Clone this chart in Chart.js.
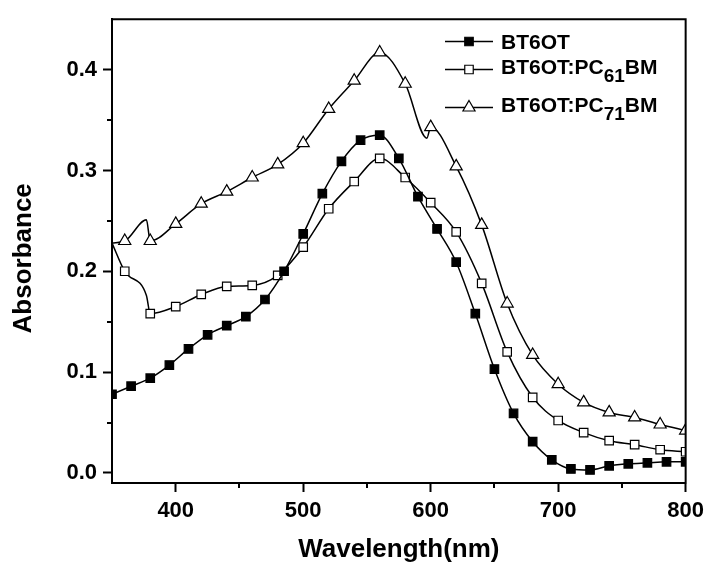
<!DOCTYPE html>
<html>
<head>
<meta charset="utf-8">
<script src="https://cdn.jsdelivr.net/npm/chart.js@4/dist/chart.umd.min.js"></script>
<style>
  body { margin: 0; background: #fff; }
  #uv { display: block; }
</style>
</head>
<body>
<canvas id="uv" width="710" height="567"></canvas>
<script>
// wavelength (nm) / absorbance
const bt6otWl = [350, 365, 380, 395, 410, 425, 440, 455, 470, 485, 500, 515, 530, 545, 560, 575,
  590, 605, 620, 635, 650, 665, 680, 695, 710, 725, 740, 755, 770, 785, 800];
const bt6otAbs = [0.078, 0.086, 0.094, 0.107, 0.123, 0.137, 0.146, 0.155, 0.172, 0.200, 0.237,
  0.277, 0.309, 0.330, 0.335, 0.312, 0.274, 0.242, 0.209, 0.158, 0.103, 0.059, 0.031, 0.013,
  0.004, 0.003, 0.007, 0.009, 0.010, 0.011, 0.011];

const pc61Wl = [350, 360, 377, 380, 400, 420, 440, 460, 480, 500, 520, 540, 560, 580, 600, 620,
  640, 660, 680, 700, 720, 740, 760, 780, 800];
const pc61Abs = [0.228, 0.200, 0.176, 0.158, 0.165, 0.177, 0.185, 0.186, 0.196, 0.224, 0.262,
  0.289, 0.312, 0.293, 0.268, 0.239, 0.188, 0.120, 0.075, 0.052, 0.040, 0.032, 0.028, 0.023, 0.021];
const pc61Bare = [350, 377];  // line points without a marker

const pc71Wl = [350, 360, 377, 380, 400, 420, 440, 460, 480, 500, 520, 540, 560, 580, 597, 600,
  620, 640, 660, 680, 700, 720, 740, 760, 780, 800];
const pc71Abs = [0.228, 0.230, 0.251, 0.230, 0.247, 0.267, 0.279, 0.293, 0.306, 0.327, 0.361,
  0.389, 0.417, 0.386, 0.332, 0.343, 0.304, 0.246, 0.168, 0.117, 0.088, 0.070, 0.060, 0.055,
  0.048, 0.042];
const pc71Bare = [350, 377, 597];

const xTicks = [400, 500, 600, 700, 800];
const xMinor = [450, 550, 650, 750];
const yTicks = [0, 0.1, 0.2, 0.3, 0.4];
const yMinor = [0.05, 0.15, 0.25, 0.35];

const legendNames = ['BT6OT', 'BT6OT:PC61BM', 'BT6OT:PC71BM'];

const FONT = "'Liberation Sans', Arial, sans-serif";

const toPoints = (wl, abs) => wl.map((x, i) => ({ x: x, y: abs[i] }));

function makeSet(label, wl, abs, bare, style, fill, r) {
  return {
    label: label,
    data: toPoints(wl, abs),
    borderColor: '#000',
    borderWidth: 1.5,
    cubicInterpolationMode: 'monotone',
    pointStyle: style,
    pointRadius: ctx => bare.includes(ctx.raw && ctx.raw.x) ? 0 : r,
    pointHoverRadius: ctx => bare.includes(ctx.raw && ctx.raw.x) ? 0 : r,
    pointBackgroundColor: fill,
    pointBorderColor: '#000',
    pointBorderWidth: 1.2,
    clip: 0
  };
}

const sets = [
  makeSet(legendNames[0], bt6otWl, bt6otAbs, [], 'rect', '#000', 6),
  makeSet(legendNames[1], pc61Wl, pc61Abs, pc61Bare, 'rect', '#fff', 6),
  makeSet(legendNames[2], pc71Wl, pc71Abs, pc71Bare, 'triangle', '#fff', 7)
];

// top/right frame plus the short minor ticks
const frame = {
  id: 'frame',
  afterDraw(chart) {
    const { ctx, chartArea: a, scales: { x, y } } = chart;
    ctx.save();
    ctx.strokeStyle = '#000';
    ctx.lineWidth = 2;
    ctx.beginPath();
    ctx.moveTo(a.left - 1, a.top);
    ctx.lineTo(a.right, a.top);
    ctx.lineTo(a.right, a.bottom + 1);
    ctx.stroke();
    ctx.beginPath();
    xMinor.forEach(v => {
      const px = Math.round(x.getPixelForValue(v));
      ctx.moveTo(px, a.bottom);
      ctx.lineTo(px, a.bottom + 5);
    });
    yMinor.forEach(v => {
      const py = Math.round(y.getPixelForValue(v));
      ctx.moveTo(a.left, py);
      ctx.lineTo(a.left - 5, py);
    });
    ctx.stroke();
    ctx.restore();
  }
};

// legend with subscripted fullerene names
const legendBox = {
  id: 'legendBox',
  afterDraw(chart) {
    const ctx = chart.ctx;
    const lineY = [41.5, 69.5, 107.5];
    const baseY = [48.5, 74, 111.5];
    ctx.save();
    sets.forEach((ds, i) => {
      ctx.strokeStyle = '#000';
      ctx.lineWidth = 1.5;
      ctx.beginPath();
      ctx.moveTo(445, lineY[i]);
      ctx.lineTo(493, lineY[i]);
      ctx.stroke();
      ctx.fillStyle = ds.pointBackgroundColor;
      ctx.lineWidth = 1.2;
      Chart.helpers.drawPoint(ctx, {
        pointStyle: ds.pointStyle,
        radius: ds.pointStyle === 'triangle' ? 7 : 6,
        rotation: 0,
        borderWidth: 1.2
      }, 469, lineY[i]);

      ctx.fillStyle = '#000';
      ctx.textBaseline = 'alphabetic';
      let tx = 501;
      const parts = legendNames[i].split(/(\d{2})(?=BM)/);
      parts.forEach((p, k) => {
        const sub = k % 2 === 1;
        ctx.font = `bold ${sub ? 19 : 21}px ${FONT}`;
        ctx.fillText(p, tx, baseY[i] + (sub ? 8 : 0));
        tx += ctx.measureText(p).width;
      });
    });
    ctx.restore();
  }
};

new Chart(document.getElementById('uv'), {
  type: 'line',
  data: { datasets: sets },
  options: {
    responsive: false,
    animation: false,
    devicePixelRatio: 1,
    layout: { padding: { top: 14, right: 23, left: 0, bottom: 0 } },
    plugins: {
      legend: { display: false },
      tooltip: { enabled: false }
    },
    scales: {
      x: {
        type: 'linear',
        min: 350,
        max: 800,
        afterBuildTicks: s => { s.ticks = xTicks.map(v => ({ value: v })); },
        afterFit: s => { s.height = 84; },
        ticks: {
          color: '#000',
          padding: 6,
          maxRotation: 0,
          font: { family: FONT, size: 22, weight: 'bold' },
          callback: v => String(v)
        },
        grid: { drawOnChartArea: false, tickLength: 9, tickWidth: 2, tickColor: '#000' },
        border: { color: '#000', width: 2 },
        title: {
          display: true,
          text: 'Wavelength(nm)',
          color: '#000',
          font: { family: FONT, size: 26, weight: 'bold' },
          padding: { top: 0, bottom: 2 }
        }
      },
      y: {
        min: -0.01,
        max: 0.45,
        afterBuildTicks: s => { s.ticks = yTicks.map(v => ({ value: v })); },
        afterFit: s => { s.width = 112; },
        ticks: {
          color: '#000',
          padding: 6,
          font: { family: FONT, size: 22, weight: 'bold' },
          callback: v => v.toFixed(1)
        },
        grid: { drawOnChartArea: false, tickLength: 9, tickWidth: 2, tickColor: '#000' },
        border: { color: '#000', width: 2 },
        title: {
          display: true,
          // two trailing spaces nudge the rotated label down a little, as in the figure
          text: 'Absorbance\u00a0\u00a0',
          color: '#000',
          font: { family: FONT, size: 26, weight: 'bold' },
          padding: { top: 8, bottom: 0 }
        }
      }
    }
  },
  plugins: [frame, legendBox]
});
</script>
</body>
</html>
